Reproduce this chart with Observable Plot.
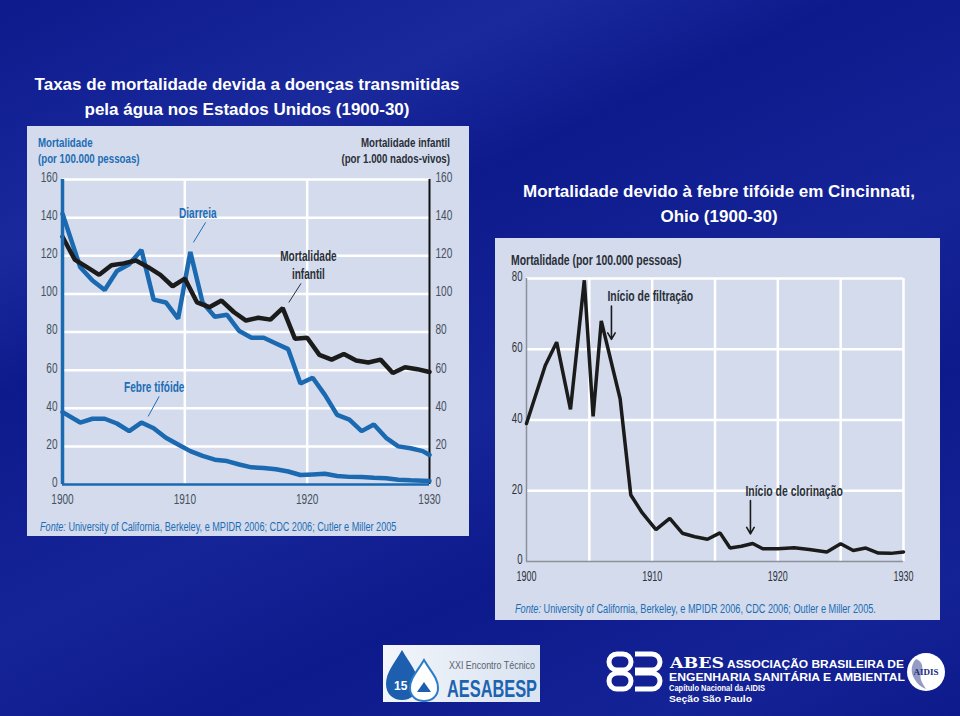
<!DOCTYPE html>
<html><head><meta charset="utf-8">
<script src="https://cdn.jsdelivr.net/npm/d3@7"></script>
<script src="https://cdn.jsdelivr.net/npm/@observablehq/plot@0.6"></script>
<style>
html,body{margin:0;padding:0;}
body{width:960px;height:716px;overflow:hidden;position:relative;font-family:"Liberation Sans",Arial,sans-serif;
background:
 linear-gradient(155deg, rgba(90,110,230,0) 0%, rgba(90,110,230,0.18) 22%, rgba(90,110,230,0) 34%, rgba(90,110,230,0.12) 55%, rgba(90,110,230,0) 70%, rgba(90,110,230,0.10) 88%, rgba(90,110,230,0) 100%),
 #0c1a8c;}
.abs{position:absolute;}
.title{color:#fff;font-weight:bold;font-size:17px;line-height:25px;text-align:center;}
.panel{background:#d3dbec;}
.sq{white-space:nowrap;transform:scaleX(0.72);transform-origin:0 0;}
.sqr{white-space:nowrap;transform:scaleX(0.72);transform-origin:100% 0;text-align:right;}
</style></head>
<body>
<div class="abs title" style="left:0;top:72px;width:494px;">Taxas de mortalidade devida a doenças transmitidas<br>pela água nos Estados Unidos (1900-30)</div>
<div class="abs title" style="left:500px;top:179px;width:438px;">Mortalidade devido à febre tifóide em Cincinnati,<br>Ohio (1900-30)</div>

<div id="leftPanel" class="abs panel" style="left:27px;top:126px;width:442px;height:410px;"></div>
<div id="rightPanel" class="abs panel" style="left:495px;top:238px;width:445px;height:382px;"></div>

<!-- left panel texts -->
<div class="abs sq" style="left:38px;top:135px;color:#1c6db5;font-size:13.5px;line-height:15.5px;font-weight:bold;">Mortalidade<br>(por 100.000 pessoas)</div>
<div class="abs sqr" style="left:250px;top:135px;width:200px;color:#2a2f38;font-size:13.5px;line-height:15.5px;font-weight:bold;">Mortalidade infantil<br>(por 1.000 nados-vivos)</div>
<div class="abs" style="left:40px;top:520px;color:#1c6db5;font-size:12.5px;white-space:nowrap;transform:scaleX(0.73);transform-origin:0 0;"><i>Fonte:</i> University of California, Berkeley, e MPIDR 2006; CDC 2006; Cutler e Miller 2005</div>

<!-- right panel texts -->
<div class="abs sq" style="left:511px;top:252px;color:#2a2f38;font-size:14.5px;font-weight:bold;">Mortalidade (por 100.000 pessoas)</div>
<div class="abs" style="left:515px;top:602px;color:#1c6db5;font-size:12.5px;white-space:nowrap;transform:scaleX(0.733);transform-origin:0 0;"><i>Fonte:</i> University of California, Berkeley, e MPIDR 2006, CDC 2006; Outler e Miller 2005.</div>

<!-- logos -->
<svg class="abs" style="left:0;top:640px" width="960" height="76">
  <defs><linearGradient id="lg" x1="0" x2="1"><stop offset="0" stop-color="#f2f5fa"/><stop offset="1" stop-color="#d9e3f1"/></linearGradient></defs>
  <rect x="383" y="5" width="157" height="57" fill="url(#lg)"/>
  <path d="M402 10 C410 24 418 32 418 44 C418 54 411 60 402 60 C393 60 386 54 386 44 C386 32 394 24 402 10 Z" fill="#1d5fae"/>
  <path d="M424 20 C431 32 438 38 438 48 C438 56 432 61 424 61 C416 61 410 56 410 48 C410 38 417 32 424 20 Z" fill="#fff" stroke="#2a7bc8" stroke-width="2"/>
  <text x="394" y="50" font-family="Liberation Sans" font-weight="bold" font-size="12" fill="#fff">15</text>
  <path d="M417 52 L424 42 L431 52 Z" fill="#1d5fae"/>
  <text x="449" y="29" font-family="Liberation Sans" font-size="11" fill="#5a6270" textLength="86" lengthAdjust="spacingAndGlyphs">XXI Encontro Técnico</text>
  <text x="447" y="57" font-family="Liberation Sans" font-weight="bold" font-size="24" fill="#1c63b0" textLength="90" lengthAdjust="spacingAndGlyphs">AESABESP</text>

  <g fill="none" stroke="#fff" stroke-width="5">
    <rect x="609" y="14" width="22" height="16" rx="8"/>
    <rect x="609" y="33" width="22" height="16" rx="8"/>
    <path d="M635 14 H652 A8 8 0 0 1 652 30 H635 M635 33 H652 A8 8 0 0 1 652 49 H635"/>
  </g>
  <text x="670" y="28" font-family="DejaVu Serif" font-weight="bold" font-size="14.5" fill="#fff" textLength="54" lengthAdjust="spacingAndGlyphs">ABES</text>
  <text x="727" y="27.5" font-family="Liberation Sans" font-weight="bold" font-size="11" fill="#fff" textLength="177" lengthAdjust="spacingAndGlyphs">ASSOCIAÇÃO BRASILEIRA DE</text>
  <text x="669" y="41" font-family="Liberation Sans" font-weight="bold" font-size="11" fill="#fff" textLength="236" lengthAdjust="spacingAndGlyphs">ENGENHARIA SANITÁRIA E AMBIENTAL</text>
  <text x="669" y="51" font-family="Liberation Sans" font-weight="bold" font-size="9.5" fill="#fff" textLength="96" lengthAdjust="spacingAndGlyphs">Capítulo Nacional da AIDIS</text>
  <text x="669" y="61.5" font-family="Liberation Sans" font-weight="bold" font-size="9" fill="#fff" textLength="83" lengthAdjust="spacingAndGlyphs">Seção São Paulo</text>
  <circle cx="926" cy="32" r="19" fill="#fff"/>
  <path d="M916 19 C922 21 924 27 921 33 C919 39 923 44 926 49 C920 47 914 41 912 33 C911 27 913 22 916 19 Z" fill="#2a3a8c" opacity="0.5"/>
  <text x="926" y="35" text-anchor="middle" font-family="Liberation Serif" font-size="9" font-weight="bold" fill="#1a2a7c">AIDIS</text>
</svg>

<script>
// ---------- data ----------
const years = [1900,1901,1902,1903,1904,1905,1906,1907,1908,1909,1910,1911,1912,1913,1914,1915,1916,1917,1918,1919,1920,1921,1922,1923,1924,1925,1926,1927,1928,1929,1930];
const diarrhea = [142,114,107,102,112,115.5,123,97,95.5,87,122,95.5,88,89,80.5,77,77,74,71,53,56,47,36.5,34,28,31.5,24.5,20,19,17.5,15.5];
const typhoid = [38,32.5,34.5,34.5,32,28,32.5,29.5,24.5,21,17.5,15,13,12.3,10.5,9,8.7,8,6.8,5,5.3,5.6,4.5,4,3.9,3.5,3.3,2.5,2.2,2.0,1.8];
const infant = [130,118,114,110,115,116,117.5,114,110,104,108,95.5,93,96.5,90.5,86,87.5,86.5,92.5,76.5,77,68,65.5,68.5,65,64,65.5,58.5,61.5,60.5,59];
const yTicksL = [0,20,40,60,80,100,120,140,160];
const xTicksL = [1900,1910,1920,1930];

const cinYears = [1900,1901.5,1902.4,1903.5,1904.6,1905.3,1905.95,1907.45,1908.3,1909.2,1910.3,1911.4,1912.4,1913.4,1914.4,1915.4,1916.2,1917.1,1918.0,1918.8,1920.0,1921.3,1922.5,1923.9,1925.0,1926.0,1927.0,1928.0,1929.0,1930.0];
const cinValues = [39,55.5,62,43,79.5,41,68,46,18.8,13.8,9,12.2,8,7,6.3,8.1,3.8,4.3,5.1,3.6,3.6,3.9,3.4,2.7,5,3.1,3.8,2.4,2.3,2.7];
const yTicksR = [0,20,40,60,80];
const xTicksR = [1900,1910,1920,1930];
const xGridR = [1905,1910,1915,1920,1925,1930];

const annLeft = [
  {x:1911.06, y:142.7, t:"Diarreia", c:"#1c6db5"},
  {x:1920.1, y:115.4, t:"Mortalidade\ninfantil", c:"#2a2f38"},
  {x:1907.5, y:51.4, t:"Febre tifóide", c:"#1c6db5"}
];
const leadLeft = [
  {x1:1911.7, y1:137.5, x2:1910.7, y2:127, c:"#1c6db5"},
  {x1:1919.5, y1:105.5, x2:1918.5, y2:95.5, c:"#2a2f38"},
  {x1:1907.9, y1:46.2, x2:1907.0, y2:35.7, c:"#1c6db5"}
];
const annRight = [
  {x:1906.44, y:75, t:"Início de filtração"},
  {x:1917.42, y:19.7, t:"Início de clorinação"}
];
const arrRight = [
  {x1:1906.76, y1:72.2, x2:1906.76, y2:62.8},
  {x1:1917.82, y1:17.2, x2:1917.82, y2:7.8}
];

// ---------- tables ----------
const blueX = (i) => i === 0 ? years[0] : i === years.length - 1 ? years[i] : years[i] + 0.45;
const diaT = years.map((y,i) => ({x: blueX(i), v: diarrhea[i]}));
const tyT = years.map((y,i) => ({x: blueX(i), v: typhoid[i]}));
const infT = years.map((y,i) => ({x: y, v: infant[i]}));
const cinT = cinYears.map((y,i) => ({x: y, v: cinValues[i]}));

const FONT = '"Liberation Sans",Arial,sans-serif';
const BLUE = "#1a69b1";

function condense(svg, selector, s) {
  svg.querySelectorAll(selector).forEach(t => {
    const x = +(t.getAttribute("x") || 0);
    const tr = t.getAttribute("transform") || "";
    t.setAttribute("transform", `${tr} translate(${x},0) scale(${s},1) translate(${-x},0)`);
  });
}

const left = Plot.plot({
  width: 442, height: 410,
  marginLeft: 35, marginRight: 40, marginTop: 53, marginBottom: 52,
  style: {background: "transparent", fontFamily: FONT, fontSize: "14px", color: "#46505e", overflow: "visible"},
  x: {domain: [1900, 1930]},
  y: {domain: [0, 160]},
  marks: [
    Plot.ruleY(yTicksL.filter(v => v > 0), {stroke: "#fff", strokeWidth: 2.5}),
    Plot.ruleX(xTicksL.filter(v => v > 1900 && v < 1930), {stroke: "#fff", strokeWidth: 2.5}),
    Plot.axisY({anchor: "left", ticks: yTicksL, tickSize: 0, tickPadding: 5, dy: -2, label: null}),
    Plot.axisY({anchor: "right", ticks: yTicksL, tickSize: 0, tickPadding: 6, dy: -2, label: null}),
    Plot.axisX({ticks: xTicksL, tickSize: 0, tickPadding: 10, tickFormat: d => String(d), label: null}),
    Plot.ruleX([1930], {y1: 0, y2: 160, stroke: "#111", strokeWidth: 2}),
    Plot.line(tyT, {x: "x", y: "v", stroke: BLUE, strokeWidth: 4.5, strokeLinejoin: "miter"}),
    Plot.line(diaT, {x: "x", y: "v", stroke: BLUE, strokeWidth: 4.5, strokeLinejoin: "miter"}),
    Plot.line(infT, {x: "x", y: "v", stroke: "#1b1b1b", strokeWidth: 4.5, strokeLinejoin: "miter"}),
    Plot.ruleX([1900], {y1: 0, y2: 160, stroke: BLUE, strokeWidth: 3.5}),
    Plot.ruleY([0], {x1: 1900, x2: 1930, stroke: BLUE, strokeWidth: 2.5}),
    Plot.link(leadLeft, {x1: "x1", y1: "y1", x2: "x2", y2: "y2", stroke: "c", strokeWidth: 1}),
    Plot.text(annLeft, {x: "x", y: "y", text: "t", fill: "c", fontSize: 14, fontWeight: "bold", lineHeight: 1.25})
  ]
});
condense(left, "text", 0.72);
document.getElementById("leftPanel").appendChild(left);

const right = Plot.plot({
  width: 445, height: 382,
  marginLeft: 31, marginRight: 37, marginTop: 40, marginBottom: 59,
  style: {background: "transparent", fontFamily: FONT, fontSize: "14.5px", color: "#2e333b", overflow: "visible"},
  x: {domain: [1900, 1930]},
  y: {domain: [0, 80]},
  marks: [
    Plot.ruleY(yTicksR.filter(v => v > 0), {stroke: "#fff", strokeWidth: 2.5}),
    Plot.ruleX(xGridR, {stroke: "#fff", strokeWidth: 2.5}),
    Plot.axisY({anchor: "left", ticks: yTicksR, tickSize: 0, tickPadding: 4, fontSize: 15.5, dy: -2, label: null}),
    Plot.axisX({ticks: xTicksR, tickSize: 0, tickPadding: 9, tickFormat: d => String(d), label: null}),
    Plot.ruleX([1900], {y1: 0, y2: 80, stroke: "#8c919b", strokeWidth: 1.5}),
    Plot.ruleY([0], {x1: 1900, x2: 1930, stroke: "#8c919b", strokeWidth: 1.5}),
    Plot.line(cinT, {x: "x", y: "v", stroke: "#1b1b1b", strokeWidth: 3.5, strokeLinejoin: "miter"}),
    Plot.arrow(arrRight, {x1: "x1", y1: "y1", x2: "x2", y2: "y2", stroke: "#1b1b1b", strokeWidth: 1.6, headLength: 7}),
    Plot.text(annRight, {x: "x", y: "y", text: "t", fill: "#2a2f38", fontSize: 14.5, fontWeight: "bold", textAnchor: "start"})
  ]
});
condense(right, 'g[aria-label="text"] text', 0.72);
condense(right, 'g[aria-label$="tick label"] text', 0.62);
document.getElementById("rightPanel").appendChild(right);
</script>
</body></html>
